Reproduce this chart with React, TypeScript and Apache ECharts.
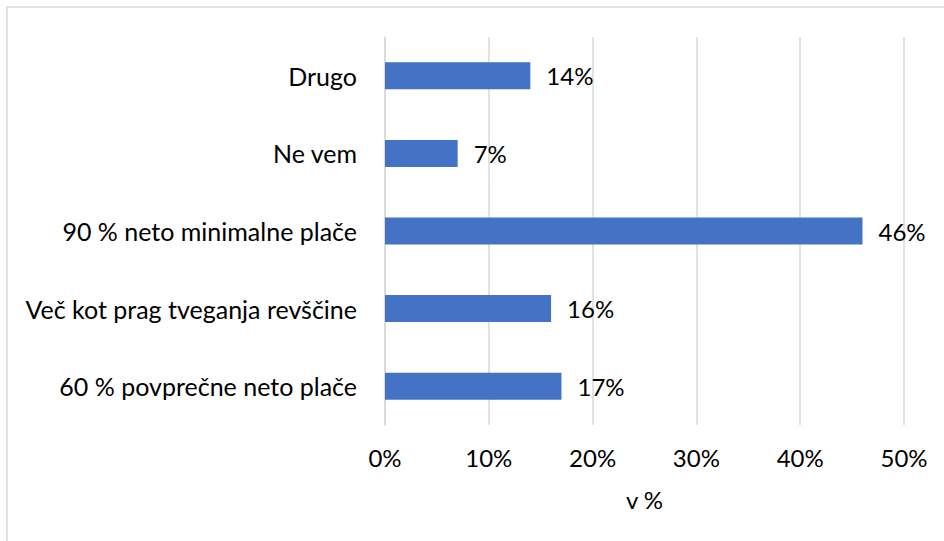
import React, { useEffect, useRef } from "react";
import * as echarts from "echarts";

const categories = [
  "60 % povprečne neto plače",
  "Več kot prag tveganja revščine",
  "90 % neto minimalne plače",
  "Ne vem",
  "Drugo",
];
const values = [17, 16, 46, 7, 14];
const xTicks = { min: 0, max: 50, interval: 10 };
const axisName = "v %";

export default function App() {
  const ref = useRef<HTMLDivElement>(null);
  useEffect(() => {
    document.body.style.margin = "0";
    const chart = echarts.init(ref.current!, null, { renderer: "svg" });
    const font = "Lato, 'Open Sans', sans-serif";
    const fs = 24;
    chart.setOption({
      animation: false,
      backgroundColor: "#fff",
      textStyle: { fontFamily: font },
      graphic: [
        {
          type: "rect",
          shape: { x: 7, y: 7, width: 1000, height: 600 },
          style: { fill: "none", stroke: "#d9d9d9", lineWidth: 1.5 },
          silent: true,
        },
      ],
      grid: { left: 385, right: 40, top: 37, bottom: 116 },
      xAxis: {
        type: "value",
        min: xTicks.min,
        max: xTicks.max,
        interval: xTicks.interval,
        name: axisName,
        nameLocation: "middle",
        nameGap: 62,
        nameTextStyle: { fontSize: fs, color: "#000", fontFamily: font },
        axisLine: { show: false },
        axisTick: { show: false },
        axisLabel: {
          formatter: "{value}%",
          fontSize: fs,
          color: "#000",
          margin: 20,
          fontFamily: font,
        },
        splitLine: { show: true, lineStyle: { color: "#d9d9d9", width: 1.5 } },
      },
      yAxis: {
        type: "category",
        data: categories,
        axisLine: { show: true, lineStyle: { color: "#d9d9d9", width: 1.5 } },
        axisTick: { show: false },
        axisLabel: { fontSize: 25, color: "#000", margin: 28, fontFamily: font },
      },
      series: [
        {
          type: "bar",
          data: values,
          barWidth: 27,
          itemStyle: { color: "#4472c4" },
          label: {
            show: true,
            position: "right",
            distance: 16,
            formatter: "{c}%",
            fontSize: fs,
            color: "#000",
            fontFamily: font,
          },
        },
      ],
    });
    return () => chart.dispose();
  }, []);
  return (
    <div
      ref={ref}
      style={{ width: 944, height: 541, position: "absolute", left: 0, top: 0 }}
    />
  );
}
